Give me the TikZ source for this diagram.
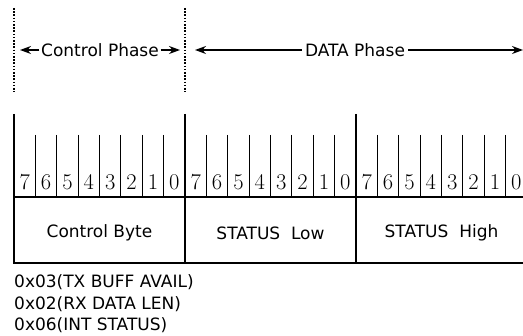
\documentclass[tikz,border=0pt]{standalone}
\usepackage{fontspec}
\newfontfamily\labelfont{DejaVu Sans}
\usetikzlibrary{arrows.meta}

\begin{document}
\begin{tikzpicture}[x=1pt,y=-1pt,
    txt/.style={font=\labelfont\fontsize{17}{20}\selectfont},
    bitnum/.style={font=\fontsize{22.5}{22.5}\selectfont, inner sep=0pt, anchor=base},
    frameline/.style={line width=2.4pt},
    tickline/.style={line width=1pt},
    dotline/.style={line width=1.6pt, dash pattern=on 1.6pt off 1.6pt},
    phasearrow/.style={-{Stealth[length=11pt,width=8pt]}, line width=1.2pt}]
    \useasboundingbox (0,0) rectangle (523,336);
    %
    \coordinate (m0top) at (14,8);  \coordinate (m0bot) at (14,92);
    \coordinate (m1top) at (185,8); \coordinate (m1bot) at (185,92);
    \draw [dotline](m0top)--(m0bot);
    \draw [dotline](m1top)--(m1bot);
    %
    \draw
    (100,50)node(ctrl)[txt, inner sep=1.5pt]{Control Phase}
    (355,50)node(data)[txt, inner sep=3pt]{DATA Phase};
    \coordinate (ctrlL) at (20,50);  \coordinate (ctrlR) at (180,50);
    \coordinate (dataL) at (195,50); \coordinate (dataR) at (523,50);
    \draw [phasearrow](ctrl)--(ctrlL);
    \draw [phasearrow](ctrl)--(ctrlR);
    \draw [phasearrow](data)--(dataL);
    \draw [phasearrow](data)--(dataR);
    %
    \coordinate (b0top) at (14,114);  \coordinate (b0bot) at (14,263);
    \coordinate (b1top) at (185,114); \coordinate (b1bot) at (185,263);
    \coordinate (b2top) at (356,114); \coordinate (b2bot) at (356,263);
    \coordinate (b0mid) at (14,197);  \coordinate (endmid) at (523,197);
    \coordinate (endbot) at (523,263);
    \foreach \b in {0,1,2}{
        \foreach \i in {1,...,7}
            \draw [tickline](14+171*\b+21.375*\i,135)--(14+171*\b+21.375*\i,197);
        \foreach \i in {0,...,7}{
            \pgfmathtruncatemacro{\n}{7-\i}
            \node (bit\b-\i)[bitnum] at (14+171*\b+21.375*\i+10.7,190) {\n};
        }
    }
    \draw [frameline](b0top)--(b0bot)--(endbot);
    \draw [frameline](b0mid)--(endmid);
    \draw [frameline](b1top)--(b1bot);
    \draw [frameline](b2top)--(b2bot);
    %
    \draw
    (99.5,233)node(ctrlbyte)[txt]{Control Byte}
    (270.5,233)node(statlo)[txt]{STATUS\ \ Low}
    (441.5,233)node(stathi)[txt]{STATUS\ \ High};
    %
    \draw
    (14,288)node(txbuff)[txt, anchor=base west, inner sep=0pt]{0x03(TX BUFF AVAIL)}
    (14,310)node(rxlen)[txt, anchor=base west, inner sep=0pt]{0x02(RX DATA LEN)}
    (14,331)node(intstat)[txt, anchor=base west, inner sep=0pt]{0x06(INT STATUS)};
\end{tikzpicture}
\end{document}
